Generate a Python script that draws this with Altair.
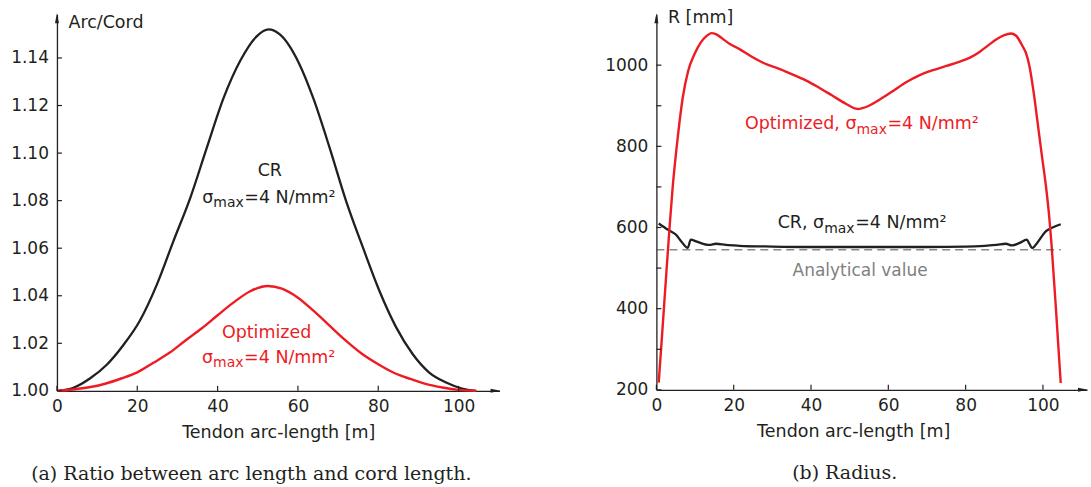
import altair as alt
import pandas as pd

# ---------------- data: (a) ratio arc length / cord length ----------------
a_cr_x = [0, 4.1, 8.2, 12.4, 16.5, 20.6, 24.9, 29.0, 33.2, 37.3, 41.5, 45.6, 49.8, 52.7,
          55.5, 60.4, 63.8, 67.9, 72.0, 76.2, 80.3, 84.5, 88.6, 92.7, 96.9, 100.8, 104.4]
a_cr_y = [1.0, 1.0013, 1.0052, 1.0110, 1.0192, 1.0294, 1.0448, 1.0630, 1.0812, 1.1022, 1.1232,
          1.1387, 1.1492, 1.1520, 1.1499, 1.1373, 1.1232, 1.1022, 1.0798, 1.0602, 1.0420,
          1.0266, 1.0154, 1.0077, 1.0035, 1.0010, 1.0]
a_opt_x = [0, 4, 8, 12, 16, 20, 24, 28, 32, 36, 40, 44, 48, 52.5, 56, 60, 64, 68, 72, 76,
           80, 84, 88, 92, 96, 100, 104.4]
a_opt_y = [1.0, 1.0006, 1.0015, 1.0030, 1.0052, 1.0078, 1.0118, 1.0160, 1.0212, 1.0262,
           1.0318, 1.0372, 1.0418, 1.0441, 1.0430, 1.0392, 1.0335, 1.0272, 1.0210, 1.0155,
           1.0112, 1.0075, 1.0050, 1.0028, 1.0014, 1.0004, 1.0]
a_xticks = [0, 20, 40, 60, 80, 100]
a_yticks = [1.00, 1.02, 1.04, 1.06, 1.08, 1.10, 1.12, 1.14]

# ---------------- data: (b) radius ----------------
b_opt_x = [0.6, 1.5, 2.5, 3.4, 4.2, 5.5, 6.8, 8.2, 9.8, 11.5, 13.0, 14.2, 15.5, 17.0, 19.0,
           21.4, 24.8, 28.0, 31.8, 35.0, 38.8, 42.0, 45.5, 49.0, 52.0, 55.0, 57.6, 61.0, 64.6,
           68.0, 71.3, 75.0, 78.3, 81.0, 83.5, 86.0, 88.0, 90.0, 91.7, 93.0, 94.6, 95.6, 96.5,
           97.7, 98.6, 99.7, 100.8, 101.5, 102.3, 103.6, 104.6]
b_opt_r = [218, 340, 478, 600, 698, 820, 919, 985, 1026, 1056, 1072, 1079, 1076, 1066, 1052,
           1040, 1020, 1004, 991, 978, 962, 945, 925, 905, 892, 900, 914, 935, 958,
           975, 987, 998, 1008, 1018, 1032, 1050, 1064, 1074, 1078, 1073, 1049, 1030, 998,
           926, 860, 779, 700, 639, 548, 365, 217]
b_cr_x = [0.6, 2.9, 5.1, 6.5, 8.1, 8.9, 10.5, 13.7, 15.4, 18.0, 21.4, 30, 40, 50, 60, 70, 80,
          85, 88, 90.4, 92.0, 94.0, 95.8, 96.5, 97.2, 98.5, 100.8, 102.5, 104.6]
b_cr_r = [610, 595, 582, 565, 550, 570, 565, 557, 560, 557, 555, 553, 552, 552, 552, 552, 553,
          555, 557, 560, 556, 562, 570, 560, 549, 562, 591, 600, 608]
b_an_x = [0, 104.6]
b_an_r = [545, 545]
b_xticks = [0, 20, 40, 60, 80, 100]
b_ylabels = [200, 400, 600, 800, 1000]
b_yticks = [200, 300, 400, 500, 600, 700, 800, 900, 1000]

INK = "#231f20"
RED = "#ed1c24"
GREY_TXT = "#808080"
FONT = "DejaVu Sans"
SERIF = "DejaVu Serif"


def panel(W, H, xdom, ydom, xticks, ylabels, yticks, yfmt, ytitle, ytitle_y, xtitle_x,
          lines, texts, caption):
    xsc = alt.Scale(domain=xdom, nice=False, zero=False)
    ysc = alt.Scale(domain=ydom, nice=False, zero=False)
    xax = alt.Axis(values=xticks, format="d", ticks=False, tickSize=0, grid=False,
                   domainColor=INK, domainWidth=1.3, labelFont=FONT, labelFontSize=17,
                   labelColor=INK, labelPadding=8, labelFlush=False, labelOverlap=False,
                   title="Tendon arc-length [m]", titleFont=FONT, titleFontSize=17.5,
                   titleFontWeight="normal", titleColor=INK, titleBaseline="alphabetic",
                   titleY=47, titleX=xtitle_x, titleAlign="center")
    yax = alt.Axis(values=ylabels, format=yfmt, ticks=False, tickSize=0, grid=False,
                   domainColor=INK, domainWidth=1.3, labelFont=FONT, labelFontSize=17,
                   labelColor=INK, labelPadding=8.5, labelFlush=False, labelOverlap=False,
                   title=ytitle, titleFont=FONT, titleFontSize=17.5, titleFontWeight="normal",
                   titleColor=INK, titleAngle=0, titleAlign="left", titleBaseline="middle",
                   titleX=11, titleY=ytitle_y)
    layers = []
    for xv, yv, col, dash, sw in lines:
        df = pd.DataFrame({"x": xv, "y": yv})
        mk = dict(color=col, strokeWidth=sw, interpolate="monotone")
        if dash:
            mk["strokeDash"] = dash
        layers.append(alt.Chart(df).mark_line(**mk).encode(
            x=alt.X("x:Q", scale=xsc, axis=xax),
            y=alt.Y("y:Q", scale=ysc, axis=yax)))
    # inward tick marks
    layers.append(alt.Chart(pd.DataFrame({"x": xticks})).mark_rule(color=INK, strokeWidth=1.2)
                  .encode(x=alt.X("x:Q", scale=xsc, axis=xax), y=alt.value(H), y2=alt.value(H - 5)))
    layers.append(alt.Chart(pd.DataFrame({"y": yticks})).mark_rule(color=INK, strokeWidth=1.2)
                  .encode(y=alt.Y("y:Q", scale=ysc, axis=yax), x=alt.value(0), x2=alt.value(5)))
    # axis arrows
    one = pd.DataFrame({"a": [0]})
    layers.append(alt.Chart(one).mark_point(shape="M0,-1L0.4,1L-0.4,1Z", filled=True,
                                            size=100, color=INK, opacity=1, strokeWidth=0)
                  .encode(x=alt.value(0), y=alt.value(4)))
    layers.append(alt.Chart(one).mark_point(shape="M1,0L-1,-0.4L-1,0.4Z", filled=True,
                                            size=100, color=INK, opacity=1, strokeWidth=0)
                  .encode(x=alt.value(W - 4), y=alt.value(H)))
    # annotations
    for (tx, ty, txt, col, size, align, dx, dy) in texts:
        df = pd.DataFrame({"x": [tx], "y": [ty], "t": [txt]})
        layers.append(alt.Chart(df).mark_text(font=FONT, fontSize=size, color=col, align=align,
                                              baseline="alphabetic", dx=dx, dy=dy)
                      .encode(x=alt.X("x:Q", scale=xsc, axis=xax),
                              y=alt.Y("y:Q", scale=ysc, axis=yax), text="t:N"))
    return alt.layer(*layers).properties(
        width=W, height=H,
        title=alt.TitleParams(caption, orient="bottom", anchor="middle", dx=-27, offset=24,
                              font=SERIF, fontSize=19, fontWeight="normal", color=INK))


def sigma_label(x, y, head, col):
    return [
        (x, y, head, col, 17.5, "right", 0, 0),
        (x, y, "max", col, 14, "left", 0, 4.5),
        (x, y, "=4 N/mm\u00b2", col, 17.5, "left", 31, 0),
    ]


a_texts = ([(53.0, 1.0903, "CR", INK, 17.5, "center", 0, 0)]
           + sigma_label(38.93, 1.0791, "\u03c3", INK)
           + [(52.2, 1.0224, "Optimized", RED, 17.5, "center", 0, 0)]
           + sigma_label(38.88, 1.0119, "\u03c3", RED))

b_texts = (sigma_label(51.76, 841.7, "Optimized, \u03c3", RED)
           + sigma_label(43.4, 598.0, "CR, \u03c3", INK)
           + [(52.7, 480.6, "Analytical value", GREY_TXT, 17, "center", 0, 0)])

left = panel(443, 377, [0, 110.2], [1.0, 1.1584], a_xticks, a_yticks, a_yticks, ".2f",
             "Arc/Cord", 8.7, 221.5,
             [(a_cr_x, a_cr_y, INK, None, 2.3), (a_opt_x, a_opt_y, RED, None, 2.4)],
             a_texts, "(a) Ratio between arc length and cord length.")

right = panel(431, 376, [0, 111.4], [200, 1125.5], b_xticks, b_ylabels, b_yticks, "d",
              "R [mm]", 3.7, 197,
              [(b_cr_x, b_cr_r, INK, None, 2.3), (b_opt_x, b_opt_r, RED, None, 2.4),
               (b_an_x, b_an_r, "#4d4d4d", [8, 5], 1)],
              b_texts, "(b) Radius.")

chart = alt.hconcat(left, right, spacing=157, bounds="flush").properties(
    padding={"left": 10, "top": 8, "right": 3, "bottom": 5}
).configure_view(stroke=None)

chart.save("out.html", embed_options={"renderer": "svg", "actions": False})
